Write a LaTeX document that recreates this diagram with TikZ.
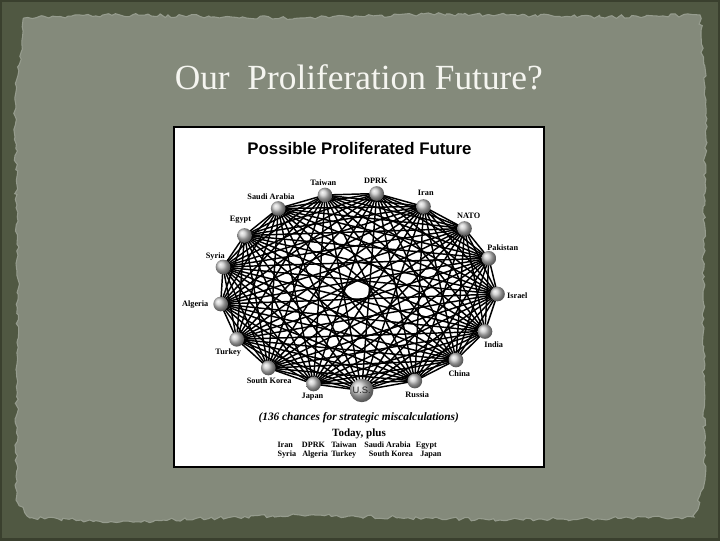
\documentclass[tikz,border=0pt]{standalone}
\usepackage{fontspec}
\setmainfont{Liberation Serif}
\setsansfont{Liberation Sans}
\usetikzlibrary{decorations.pathmorphing}
\definecolor{framec}{RGB}{80,88,66}
\definecolor{framedark}{RGB}{58,64,46}
\definecolor{paperc}{RGB}{132,138,123}
\definecolor{paperedge}{RGB}{150,156,142}
\definecolor{titlec}{RGB}{245,245,240}
\pgfdeclarelayer{bg}
\pgfdeclarelayer{edges}
\pgfsetlayers{bg,edges,main}
\tikzset{
  lbl/.style={font=\bfseries\fontsize{6.2}{7}\selectfont, inner sep=0pt},
  sphere/.style={circle, shading=ball, ball color=black!22, minimum size=11pt, inner sep=0pt},
  link/.style={line width=1.1pt, black},
  word/.style={font=\bfseries\fontsize{6.1}{7}\selectfont, inner sep=0pt, anchor=base west}
}
\begin{document}
\begin{tikzpicture}[x=0.75pt,y=-0.75pt]
\pgfmathsetseed{7}
\useasboundingbox (0,0) rectangle (720,540);
\begin{pgfonlayer}{bg}
  \fill[framec] (0,0) rectangle (720,540);
  \draw[framedark, line width=3pt] (0,0) rectangle (720,540);
  \filldraw[fill=paperc, draw=paperedge, line width=0.8pt,
    decorate, decoration={random steps, segment length=3pt, amplitude=1.3pt}]
    (24,18) -- (120,15) -- (300,18) -- (450,14) -- (600,17) -- (700,15)
    -- (706,100) -- (703,300) -- (705,480) -- (694,517) -- (500,520)
    -- (300,515) -- (120,522) -- (30,518) -- (16,500) -- (18,300)
    -- (15,100) -- (22,40) -- cycle;
  \draw[fill=white, line width=2.2pt] (174,127) rectangle (544,467);
\end{pgfonlayer}

\node[font=\fontsize{26.5}{30}\selectfont, text=titlec, anchor=base, inner sep=0pt]
  (title) at (358.8,89.3) {Our\ \ Proliferation Future?};

\node[font=\sffamily\bfseries\fontsize{12.6}{14}\selectfont, inner sep=0pt]
  (ptitle) at (359.5,148.3) {Possible Proliferated Future};

% spheres
\node[sphere, minimum size=17.5pt, font=\sffamily\fontsize{7}{8}\selectfont, text=black!85] (us) at (361.7,390.5) {U.S.};
\node[sphere] (russia)  at (414.8,381) {};
\node[sphere] (china)   at (456,360) {};
\node[sphere] (india)   at (485,331.5) {};
\node[sphere] (israel)  at (497.5,294) {};
\node[sphere] (pakistan) at (488.8,258.3) {};
\node[sphere] (nato)    at (464.5,228.5) {};
\node[sphere] (iran)    at (423.5,206.5) {};
\node[sphere] (dprk)    at (376.7,193.5) {};
\node[sphere] (taiwan)  at (325,195) {};
\node[sphere] (saudi)   at (278.2,208.5) {};
\node[sphere] (egypt)   at (244.5,235.5) {};
\node[sphere] (syria)   at (223,267) {};
\node[sphere] (algeria) at (220.7,304) {};
\node[sphere] (turkey)  at (236.7,339.3) {};
\node[sphere] (skorea)  at (268.3,368) {};
\node[sphere] (japan)   at (313.5,384) {};

\begin{pgfonlayer}{edges}
  \foreach \a [count=\i] in {us,russia,china,india,israel,pakistan,nato,iran,dprk,taiwan,saudi,egypt,syria,algeria,turkey,skorea,japan}{
    \foreach \b [count=\j] in {us,russia,china,india,israel,pakistan,nato,iran,dprk,taiwan,saudi,egypt,syria,algeria,turkey,skorea,japan}{
      \ifnum\j>\i \draw[link] (\a.center) -- (\b.center); \fi
    }
  }
\end{pgfonlayer}

% labels
\node[lbl] (lrussia)  at (417.2,395) {Russia};
\node[lbl] (lchina)   at (459.3,374) {China};
\node[lbl] (lindia)   at (493.7,344.3) {India};
\node[lbl] (lisrael)  at (517.3,295.8) {Israel};
\node[lbl] (lpakistan) at (502.8,247.7) {Pakistan};
\node[lbl] (lnato)    at (468.7,215.7) {NATO};
\node[lbl] (liran)    at (425.8,193.3) {Iran};
\node[lbl] (ldprk)    at (375.8,181) {DPRK};
\node[lbl] (ltaiwan)  at (323.3,182.7) {Taiwan};
\node[lbl] (lsaudi)   at (271,196.7) {Saudi Arabia};
\node[lbl] (legypt)   at (240.5,220) {Egypt};
\node[lbl] (lsyria)   at (215.3,256.7) {Syria};
\node[lbl] (lalgeria) at (195.2,304.3) {Algeria};
\node[lbl] (lturkey)  at (228.2,352.7) {Turkey};
\node[lbl] (lskorea)  at (269.2,380.7) {South Korea};
\node[lbl] (ljapan)   at (312.5,396.7) {Japan};

\node[font=\bfseries\itshape\fontsize{8.5}{10}\selectfont, inner sep=0pt]
  (chances) at (358.7,417.7) {(136 chances for strategic miscalculations)};
\node[font=\bfseries\fontsize{8.3}{10}\selectfont, inner sep=0pt]
  (today) at (359,434) {Today, plus};

\node[word] (w1) at (277.3,447) {Iran};
\node[word] (w2) at (301.7,447) {DPRK};
\node[word] (w3) at (331,447) {Taiwan};
\node[word] (w4) at (364,447) {Saudi Arabia};
\node[word] (w5) at (415.7,447) {Egypt};
\node[word] (w6) at (277.3,456) {Syria};
\node[word] (w7) at (302,456) {Algeria};
\node[word] (w8) at (331,456) {Turkey};
\node[word] (w9) at (368.7,456) {South Korea};
\node[word] (w10) at (420,456) {Japan};
\end{tikzpicture}
\end{document}
